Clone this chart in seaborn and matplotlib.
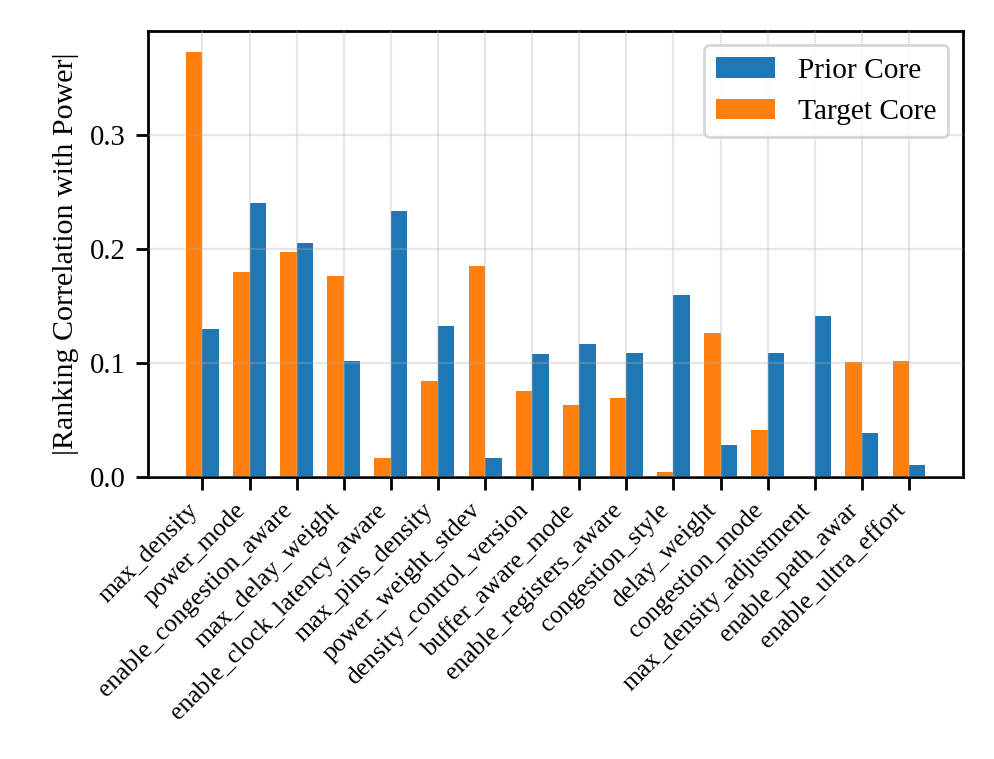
import pandas as pd
import matplotlib
matplotlib.use("Agg")
import matplotlib.pyplot as plt
import seaborn as sns

params = ["max_density", "power_mode", "enable_congestion_aware", "max_delay_weight",
          "enable_clock_latency_aware", "max_pins_density", "power_weight_stdev",
          "density_control_version", "buffer_aware_mode", "enable_registers_aware",
          "congestion_style", "delay_weight", "congestion_mode",
          "max_density_adjustment", "enable_path_awar", "enable_ultra_effort"]
target_core = [0.373, 0.180, 0.198, 0.1765, 0.017, 0.0845, 0.185, 0.0755,
               0.0635, 0.069, 0.0045, 0.1265, 0.041, 0.001, 0.101, 0.102]
prior_core = [0.130, 0.241, 0.206, 0.102, 0.234, 0.1325, 0.017, 0.108,
              0.117, 0.109, 0.160, 0.0285, 0.109, 0.1415, 0.039, 0.0105]

df = pd.DataFrame({
    "param": params * 2,
    "corr": target_core + prior_core,
    "core": ["Target Core"] * len(params) + ["Prior Core"] * len(params),
})

plt.rcParams["font.family"] = ["Liberation Serif", "DejaVu Serif"]
plt.rcParams["font.size"] = 10.3
plt.rcParams["axes.linewidth"] = 1.0

fig = plt.figure(figsize=(4.975, 3.795), dpi=200)
ax = fig.add_axes([0.149, 0.3715, 0.819, 0.588])

sns.barplot(data=df, x="param", y="corr", hue="core",
            hue_order=["Target Core", "Prior Core"],
            palette={"Target Core": "#ff7f0e", "Prior Core": "#1f77b4"},
            width=0.7, saturation=1, linewidth=0, ax=ax)

ax.set_xlim(-1.15, len(params) - 1 + 1.15)
ax.set_ylim(0, 0.392)
ax.set_yticks([0.0, 0.1, 0.2, 0.3])
ax.set_xlabel("")
ax.set_ylabel("|Ranking Correlation with Power|", fontsize=10.8)
ax.tick_params(axis="x", labelsize=9.2, length=4.5, width=1.0)
ax.tick_params(axis="y", labelsize=10.3, length=4.5, width=1.0)
plt.setp(ax.get_xticklabels(), rotation=45, ha="right")
ax.grid(True, color="#b0b0b0", alpha=0.3, linewidth=0.8)
ax.set_axisbelow(False)

handles, labels = ax.get_legend_handles_labels()
ax.legend(handles[::-1], labels[::-1], loc="upper right", fontsize=10.6)

fig.savefig("out.png", dpi=200)
plt.close(fig)
